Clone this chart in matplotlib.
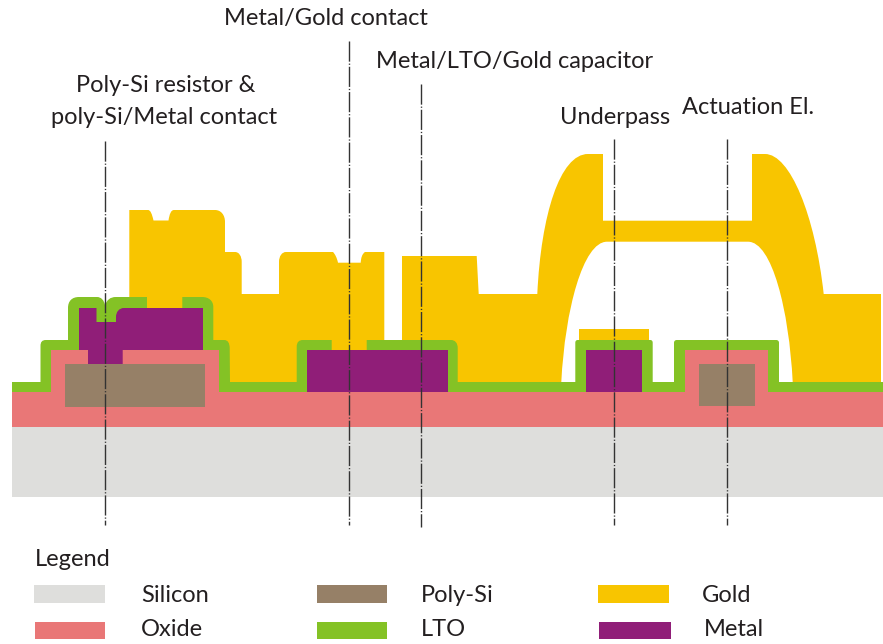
import matplotlib
matplotlib.use("Agg")
import matplotlib.pyplot as plt
from matplotlib.patches import PathPatch, Rectangle
from matplotlib.path import Path

plt.rcParams['font.family'] = ['Lato', 'DejaVu Sans']

# colours of the layers
silicon_col = "#DEDEDC"
oxide_col = "#E97777"
poly_col = "#968067"
gold_col = "#F8C500"
lto_col = "#84C225"
metal_col = "#901E78"
line_col = "#333333"

# outlines, in image pixels
# a 3-tuple of points is one cubic curve (control, control, end)
silicon = [(12, 427), (883, 427), (883, 497), (12, 497)]
oxide = [(12, 392), (51, 392), (51, 350), (219, 350), (219, 392), (685, 392),
         (685, 350), (768.3, 350), (768.3, 392), (883, 392), (883, 427),
         (12, 427)]
poly_1 = [(65, 364), (205, 364), (205, 406.5), (65, 406.5)]
poly_2 = [(698.7, 364.3), (754.7, 364.3), (754.7, 406.3), (698.7, 406.3)]
gold_main = [
    (129.3, 385), (129.3, 210), (148, 210),
    ((150.5, 210), (152, 214), (153.5, 220.5)), (168.5, 220.5),
    ((169.5, 214), (171, 210), (174, 210)), (215, 210),
    ((221, 210), (225, 215), (225, 222)), (225, 252), (235, 252),
    ((239, 252), (241.7, 256), (241.7, 262)), (241.7, 294), (279, 294),
    (279, 262), ((279, 256), (282, 252), (286, 252)), (333, 252),
    ((335, 254), (337, 258), (338, 262.7)), (360.7, 262.7),
    ((361, 258), (362, 254), (365, 252)), (384.3, 252), (384.3, 345),
    (402, 345), (402, 256), (476.7, 256), (478.7, 294), (537.3, 294),
    ((541, 215), (560, 154), (588, 154)), (603, 154), (603, 220.7),
    (752, 220.7), (752, 154), (765, 154),
    ((790, 154), (815, 215), (823.7, 294)), (881, 294), (881, 385),
    (792.7, 385), (792.7, 382), ((789, 310), (772, 241.7), (748, 241.7)),
    (607, 241.7), ((583, 241.7), (565, 310), (561.3, 382)), (561.3, 385),
]
gold_cap = [(579, 329.3), (649.3, 329.3), (649.3, 345), (579, 345)]
lto = [
    (12, 392), (12, 382), (40.5, 382), (40.5, 346),
    ((40.5, 342), (42, 340), (46, 340)), (68, 340), (68, 308),
    ((68, 301), (72, 297), (79, 297)), (97, 297),
    ((101, 297), (104, 300), (105, 305)),
    ((107, 300), (110, 297), (116, 297)), (147, 297), (147, 308), (182.3, 308),
    (182.3, 297), (202, 297), ((209, 297), (213.3, 301), (213.3, 307)),
    (213.3, 340), (224, 340), ((228, 340), (229.5, 343), (229.7, 348)),
    (230, 382), (296.7, 382), (296.7, 347),
    ((296.7, 342), (299, 340), (303, 340)), (331.7, 340), (331.7, 350),
    (366.7, 350), (366.7, 340), (451, 340),
    ((455, 340), (457.7, 343), (457.7, 348)), (457.7, 382), (575.3, 382),
    (575.3, 343), ((575.3, 341), (576, 340), (578, 340)), (650, 340),
    ((652, 340), (652.7, 341), (652.7, 343)), (652.7, 382), (674, 382),
    (674, 343), ((674, 341), (675, 340), (677, 340)), (776, 340),
    ((778, 340), (779, 341), (779, 343)), (779, 382), (883, 382), (883, 392),
]
metal_1 = [
    (79, 308), (96.5, 308), (96.5, 322), (116, 322), (116, 317),
    ((116, 312), (119, 308), (124, 308)), (203, 308), (203, 350),
    (122.7, 350), (122.7, 364), (88, 364), (88, 350), (79, 350),
]
metal_2 = [(307, 350), (447.7, 350), (447.7, 392.3), (307, 392.3)]
metal_3 = [(586, 350), (642.3, 350), (642.3, 392), (586, 392)]

# section lines: x, top, bottom
cut_x = [105, 349, 421, 614.3, 726.8]
cut_top = [141, 41, 84, 139, 139]
cut_bottom = [525, 525, 527, 525, 525]

# labels: text, centre x, centre y
label_text = ["Metal/Gold contact", "Metal/LTO/Gold capacitor",
              "Poly-Si resistor &", "poly-Si/Metal contact",
              "Underpass", "Actuation El."]
label_x = [325.5, 515, 165.5, 164.5, 615.5, 748]
label_y = [18, 61, 85, 117, 117, 107]

# legend
legend_names = ["Silicon", "Oxide", "Poly-Si", "LTO", "Gold", "Metal"]
legend_cols = [silicon_col, oxide_col, poly_col, lto_col, gold_col, metal_col]
legend_box_x = [34, 34.5, 317, 317, 598, 599]
legend_box_w = [70.5, 70.5, 70, 70, 71, 72]
legend_box_y = [585, 621.7, 585, 621.7, 585, 621.7]
legend_text_x = [141, 141, 421, 421, 702, 704]
legend_text_y = [595, 630, 595, 630, 595, 630]


def make_path(points):
    verts = []
    codes = []
    for p in points:
        if isinstance(p[0], tuple):
            verts.extend(p)
            codes.extend([Path.CURVE4] * 3)
        else:
            verts.append(p)
            codes.append(Path.LINETO)
    codes[0] = Path.MOVETO
    verts.append(verts[0])
    codes.append(Path.CLOSEPOLY)
    return Path(verts, codes)


fig = plt.figure(figsize=(8.83, 6.44), dpi=100)
ax = fig.add_axes([0, 0, 1, 1])
ax.set_xlim(0, 883)
ax.set_ylim(644, 0)
ax.axis("off")

# back to front, so the LTO gaps show the gold behind
layers = [(silicon, silicon_col), (gold_main, gold_col), (gold_cap, gold_col),
          (lto, lto_col), (oxide, oxide_col), (poly_1, poly_col),
          (poly_2, poly_col), (metal_1, metal_col), (metal_2, metal_col),
          (metal_3, metal_col)]
for outline, col in layers:
    ax.add_patch(PathPatch(make_path(outline), facecolor=col, edgecolor="none"))

for x, y0, y1 in zip(cut_x, cut_top, cut_bottom):
    ax.plot([x, x], [y0, y1], color=line_col, lw=1.0,
            dashes=(14.5, 1.4, 0.9, 1.4))

for s, x, y in zip(label_text, label_x, label_y):
    ax.text(x, y, s, ha="center", va="center", fontsize=17, color="#231F20")

ax.text(35, 559, "Legend", ha="left", va="center", fontsize=17, color="#231F20")
for i in range(len(legend_names)):
    ax.add_patch(Rectangle((legend_box_x[i], legend_box_y[i]), legend_box_w[i],
                           17.7, facecolor=legend_cols[i], edgecolor="none"))
    ax.text(legend_text_x[i], legend_text_y[i], legend_names[i], ha="left",
            va="center", fontsize=17, color="#231F20")

fig.savefig("out.png", dpi=100)
